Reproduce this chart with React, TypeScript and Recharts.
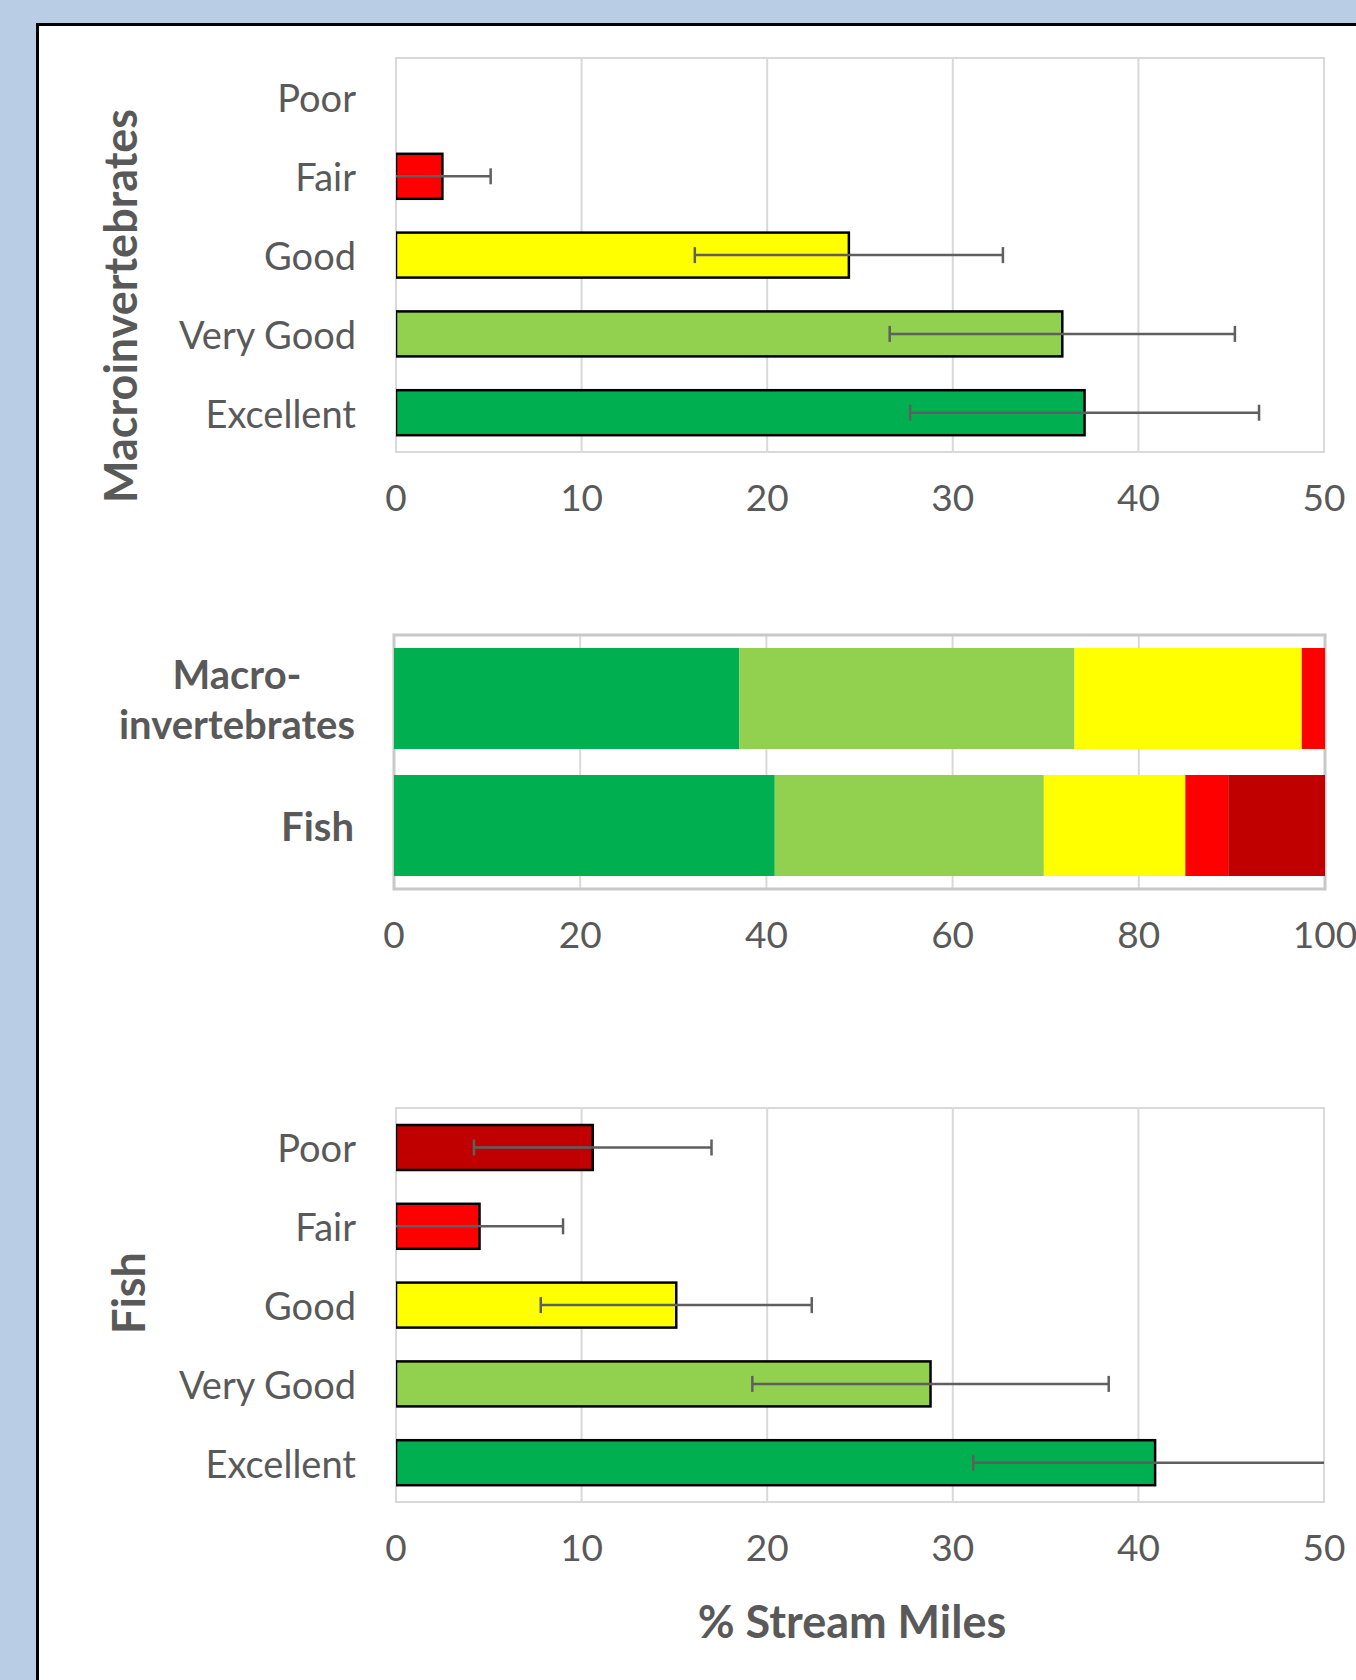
import React from "react";
import {
  BarChart,
  Bar,
  XAxis,
  YAxis,
  CartesianGrid,
  ReferenceArea,
  Label,
} from "recharts";

const conditions = ["Poor", "Fair", "Good", "Very Good", "Excellent"];
const conditionColors = ["#C00000", "#FF0000", "#FFFF00", "#92D050", "#00B050"];

const macroPercent = [0, 2.5, 24.4, 35.9, 37.1];
const macroError = [0, 2.6, 8.3, 9.3, 9.4];

const fishPercent = [10.6, 4.5, 15.1, 28.8, 40.9];
const fishError = [6.4, 4.5, 7.3, 9.6, 9.8];

const detailTicks = [0, 10, 20, 30, 40, 50];
const summaryTicks = [0, 20, 40, 60, 80, 100];

const groups = ["Macro-invertebrates", "Fish"];
const groupLines = [["Macro-", "invertebrates"], ["Fish"]];
const stackOrder = ["Excellent", "Very Good", "Good", "Fair", "Poor"];
const macroStack = [37.1, 36.0, 24.4, 2.5, 0];
const fishStack = [40.9, 28.9, 15.2, 4.6, 10.4];

const FONT = "Lato, 'Open Sans', sans-serif";
const TEXT = "#595959";
const GRID = "#D9D9D9";
const WHISKER = "#5f5f5f";

const detailRows = (vals: number[], errs: number[]) =>
  conditions.map((c, i) => ({
    name: c,
    value: vals[i],
    err: errs[i],
    color: conditionColors[i],
  }));

const summaryRows = groups.map((g, gi) => {
  const src = gi === 0 ? macroStack : fishStack;
  const row: Record<string, number | string> = { name: g };
  stackOrder.forEach((k, i) => (row[k] = src[i]));
  return row;
});

// bar + its error whisker, positioned from the bar geometry recharts computed
const BarWithError = (p: any) => {
  const { x, y, width, height, payload, background } = p;
  if (!payload || !payload.value || width <= 0) return null;
  const k = width / payload.value;
  const left = background ? background.x : x;
  const right = background
    ? background.x + background.width
    : x + detailTicks[detailTicks.length - 1] * k;
  const cy = y + height / 2;
  const lo = x + (payload.value - payload.err) * k;
  const hi = x + (payload.value + payload.err) * k;
  const x1 = Math.max(lo, left);
  const x2 = Math.min(hi, right);
  return (
    <g>
      <rect x={x} y={y} width={width} height={height} fill={payload.color} stroke="#000" strokeWidth={2.5} />
      {payload.err > 0 && (
        <g stroke={WHISKER} strokeWidth={2.5}>
          <line x1={x1} y1={cy} x2={x2} y2={cy} />
          {lo > left + 1 && <line x1={lo} y1={cy - 8} x2={lo} y2={cy + 8} />}
          {hi < right - 1 && <line x1={hi} y1={cy - 8} x2={hi} y2={cy + 8} />}
        </g>
      )}
    </g>
  );
};

const XTick = (props: any) => {
  const { x, y, payload } = props;
  return (
    <text
      x={x}
      y={y + 44}
      textAnchor="middle"
      dominantBaseline="central"
      fontFamily={FONT}
      fontSize={37}
      fill={TEXT}
    >
      {payload.value}
    </text>
  );
};

const YTick = (props: any) => {
  const { x, y, payload } = props;
  return (
    <text
      x={x - 40}
      y={y}
      textAnchor="end"
      dominantBaseline="central"
      fontFamily={FONT}
      fontSize={38}
      fill={TEXT}
    >
      {payload.value}
    </text>
  );
};

const GroupTick = (props: any) => {
  const { x, y, index } = props;
  const lines = groupLines[index] || [props.payload.value];
  const step = 50;
  const start = y - ((lines.length - 1) * step) / 2;
  const multi = lines.length > 1;
  return (
    <g>
      {lines.map((l, i) => (
        <text
          key={l}
          x={multi ? x - 40 - 117 : x - 40}
          y={start + i * step}
          textAnchor={multi ? "middle" : "end"}
          dominantBaseline="central"
          fontFamily={FONT}
          fontWeight={700}
          fontSize={40}
          fill={TEXT}
        >
          {l}
        </text>
      ))}
    </g>
  );
};

const sideTitle = (text: string, dx: number, dy: number) => (p: any) => {
  const vb = p.viewBox;
  const cx = vb.x + dx;
  const cy = vb.y + vb.height / 2 + dy;
  return (
    <text
      x={cx}
      y={cy}
      transform={`rotate(-90, ${cx}, ${cy})`}
      textAnchor="middle"
      dominantBaseline="central"
      fontFamily={FONT}
      fontWeight={700}
      fontSize={45}
      fill={TEXT}
    >
      {text}
    </text>
  );
};

const DetailChart = ({
  data,
  title,
  titleDx,
  titleDy,
  height,
  xLabel,
}: {
  data: any[];
  title: string;
  titleDx: number;
  titleDy: number;
  height: number;
  xLabel?: string;
}) => (
  <BarChart
    width={1356}
    height={height}
    data={data}
    layout="vertical"
    margin={{ top: 58, right: 32, bottom: 0, left: 0 }}
  >
    <CartesianGrid horizontal={false} stroke={GRID} strokeWidth={2} />
    <ReferenceArea x1={0} x2={50} fill="none" stroke={GRID} strokeWidth={2} fillOpacity={0} />
    <XAxis
      type="number"
      domain={[0, 50]}
      ticks={detailTicks}
      allowDataOverflow
      axisLine={false}
      tickLine={false}
      tickSize={0}
      tickMargin={0}
      tick={<XTick />}
      height={height - 58 - 394}
      interval={0}
    >
      {xLabel ? (
        <Label
          content={(p: any) => (
            <text
              x={p.viewBox.x + p.viewBox.width / 2 - 8}
              y={p.viewBox.y + 119}
              textAnchor="middle"
              dominantBaseline="central"
              fontFamily={FONT}
              fontWeight={700}
              fontSize={45}
              fill={TEXT}
            >
              {xLabel}
            </text>
          )}
        />
      ) : null}
    </XAxis>
    <YAxis
      type="category"
      dataKey="name"
      width={396}
      axisLine={false}
      tickLine={false}
      tickSize={0}
      tickMargin={0}
      tick={<YTick />}
      interval={0}
    >
      <Label content={sideTitle(title, titleDx, titleDy)} />
    </YAxis>
    <Bar dataKey="value" barSize={45} isAnimationActive={false} shape={BarWithError} />
  </BarChart>
);

export default function App() {
  const macroRows = detailRows(macroPercent, macroError);
  const fishRows = detailRows(fishPercent, fishError);
  return (
    <div
      style={{
        position: "absolute",
        left: 0,
        top: 0,
        width: 1356,
        height: 1680,
        background: "#B9CDE5",
        overflow: "hidden",
      }}
    >
      <div
        style={{
          position: "absolute",
          left: 36,
          top: 23,
          width: 1400,
          height: 1700,
          border: "3px solid #000",
          background: "#fff",
        }}
      />
      <div style={{ position: "absolute", left: 0, top: 0 }}>
        <DetailChart data={macroRows} title="Macroinvertebrates" titleDx={120} titleDy={51} height={540} />
      </div>
      <div style={{ position: "absolute", left: 0, top: 560 }}>
        <BarChart
          width={1356}
          height={440}
          data={summaryRows}
          layout="vertical"
          margin={{ top: 75, right: 31, bottom: 0, left: 0 }}
        >
          <CartesianGrid horizontal={false} stroke={GRID} strokeWidth={2} />
          <XAxis
            type="number"
            domain={[0, 100]}
            ticks={summaryTicks}
            axisLine={false}
            tickLine={false}
            tickSize={0}
            tickMargin={0}
            tick={<XTick />}
            height={111}
            interval={0}
          />
          <YAxis
            type="category"
            dataKey="name"
            width={394}
            axisLine={false}
            tickLine={false}
            tickSize={0}
            tickMargin={0}
            tick={<GroupTick />}
            interval={0}
          />
          {stackOrder.map((k) => (
            <Bar
              key={k}
              dataKey={k}
              stackId="s"
              barSize={101}
              fill={conditionColors[conditions.indexOf(k)]}
              isAnimationActive={false}
            />
          ))}
          <ReferenceArea x1={0} x2={100} fill="none" fillOpacity={0} stroke="#C8C8C8" strokeWidth={3} />
        </BarChart>
      </div>
      <div style={{ position: "absolute", left: 0, top: 1050 }}>
        <DetailChart data={fishRows} title="Fish" titleDx={128} titleDy={-12} height={630} xLabel="% Stream Miles" />
      </div>
    </div>
  );
}
